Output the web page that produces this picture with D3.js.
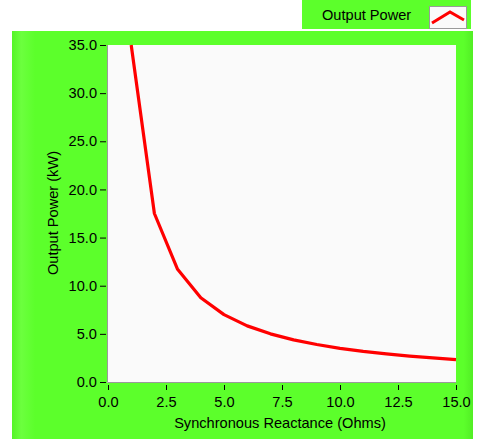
<!DOCTYPE html>
<html>
<head>
<meta charset="utf-8">
<script src="https://cdn.jsdelivr.net/npm/d3@7"></script>
<style>
  body { margin: 0; background: #fff; }
  svg { display: block; font-family: "Liberation Sans", Arial, sans-serif; }
</style>
</head>
<body>
<svg id="chart" width="484" height="439"></svg>
<script>
// data
const reactance = [1, 2, 3, 4, 5, 6, 7, 8, 9, 10, 11, 12, 13, 14, 15]
const power = [35.0, 17.5, 11.7, 8.75, 7.0, 5.83, 5.0, 4.38, 3.89, 3.5, 3.18, 2.92, 2.69, 2.5, 2.33]
const xTicks = [0, 2.5, 5, 7.5, 10, 12.5, 15]
const yTicks = [0, 5, 10, 15, 20, 25, 30, 35]

const svg = d3.select('#chart')
const green = '#5cff2b'
const fontSize = 14.6

const plot = { left: 107, top: 45, right: 456, bottom: 383 }

// gradient for the bevelled panel edge
const defs = svg.append('defs')
const grad = defs.append('linearGradient').attr('id', 'edge')
grad.append('stop').attr('offset', '0%').attr('stop-color', '#54f526')
grad.append('stop').attr('offset', '2%').attr('stop-color', '#6cff3e')
grad.append('stop').attr('offset', '5%').attr('stop-color', green)
grad.append('stop').attr('offset', '98%').attr('stop-color', green)
grad.append('stop').attr('offset', '100%').attr('stop-color', '#52ee25')

// legend box
svg.append('rect')
  .attr('x', 302).attr('y', 0).attr('width', 169).attr('height', 29)
  .attr('fill', green)
svg.append('text')
  .attr('x', 322).attr('y', 20)
  .attr('font-size', fontSize).attr('fill', '#000')
  .text('Output Power')
svg.append('rect')
  .attr('x', 429.5).attr('y', 6.5).attr('width', 37).attr('height', 22)
  .attr('fill', '#fafafa').attr('stroke', '#9a9a9a')
svg.append('path')
  .attr('d', 'M432,23 L450,12 L464,20')
  .attr('fill', 'none').attr('stroke', 'red').attr('stroke-width', 3)

// main panel
svg.append('rect')
  .attr('x', 12).attr('y', 31).attr('width', 461).attr('height', 408)
  .attr('fill', 'url(#edge)')

// plot area
svg.append('rect')
  .attr('x', plot.left).attr('y', plot.top)
  .attr('width', plot.right - plot.left).attr('height', plot.bottom - plot.top)
  .attr('fill', '#fafafa')

const x = d3.scaleLinear().domain([0, 15]).range([plot.left + 1, plot.right])
const y = d3.scaleLinear().domain([0, 35]).range([plot.bottom - 1, plot.top])

// plot frame, gray on left and bottom
svg.append('path')
  .attr('d', `M${plot.left + 0.5},${plot.top} V${plot.bottom - 0.5} H${plot.right}`)
  .attr('fill', 'none').attr('stroke', '#9a9a9a')

// y axis
const yAxis = svg.append('g')
  .attr('transform', `translate(${plot.left - 1},0)`)
  .call(d3.axisLeft(y).tickValues(yTicks).tickFormat(d3.format('.1f')).tickSize(6).tickPadding(3))
yAxis.select('.domain').remove()
yAxis.selectAll('line').attr('stroke', '#000')
yAxis.selectAll('text').attr('font-size', fontSize).attr('fill', '#000')
  .attr('font-family', '"Liberation Sans", Arial, sans-serif')

// x axis
const xAxis = svg.append('g')
  .attr('transform', `translate(0,${plot.bottom + 2})`)
  .call(d3.axisBottom(x).tickValues(xTicks).tickFormat(d3.format('.1f')).tickSize(5).tickPadding(7))
xAxis.select('.domain').remove()
xAxis.selectAll('line').attr('stroke', '#000')
xAxis.selectAll('text').attr('font-size', fontSize).attr('fill', '#000')
  .attr('font-family', '"Liberation Sans", Arial, sans-serif')

// axis titles
svg.append('text')
  .attr('x', 280).attr('y', 428)
  .attr('text-anchor', 'middle').attr('font-size', fontSize)
  .text('Synchronous Reactance (Ohms)')
svg.append('text')
  .attr('transform', 'translate(58,213) rotate(-90)')
  .attr('text-anchor', 'middle').attr('font-size', fontSize)
  .text('Output Power (kW)')

// the curve
const line = d3.line().x((d, i) => x(reactance[i])).y(d => y(d))
svg.append('path')
  .datum(power)
  .attr('d', line)
  .attr('fill', 'none')
  .attr('stroke', '#ff0000')
  .attr('stroke-width', 3.2)
  .attr('stroke-linejoin', 'round')
</script>
</body>
</html>
